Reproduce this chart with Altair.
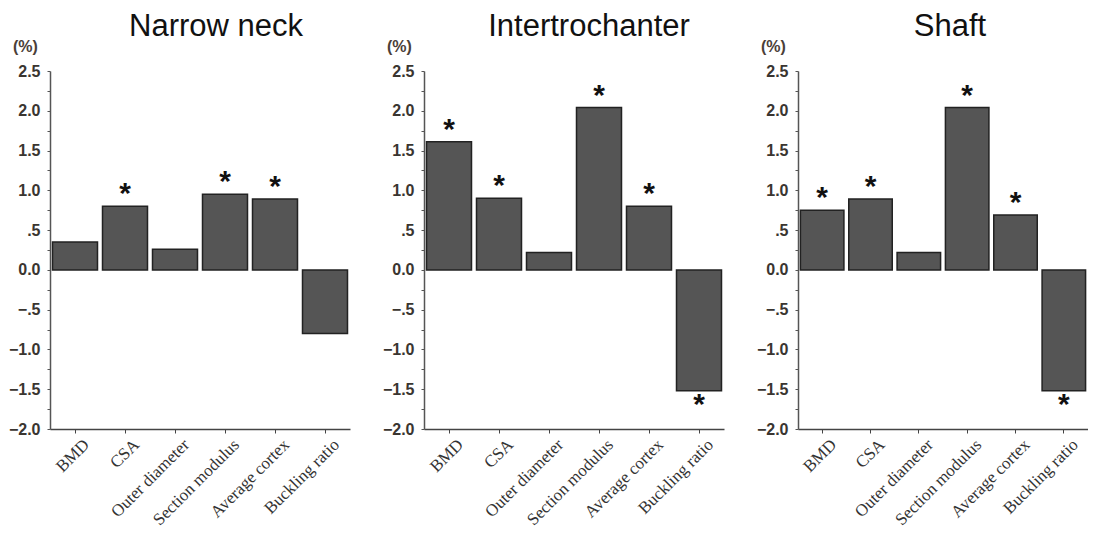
import altair as alt
import pandas as pd

categories = ["BMD", "CSA", "Outer diameter", "Section modulus", "Average cortex", "Buckling ratio"]
panel_titles = ["Narrow neck", "Intertrochanter", "Shaft"]
narrow_neck = [0.35, 0.80, 0.26, 0.95, 0.89, -0.80]
intertrochanter = [1.61, 0.90, 0.22, 2.04, 0.80, -1.52]
shaft = [0.75, 0.89, 0.22, 2.04, 0.69, -1.52]
sig_narrow = [0, 1, 0, 1, 1, 0]
sig_inter = [1, 1, 0, 1, 1, 1]
sig_shaft = [1, 1, 0, 1, 1, 1]
y_ticks = [-2.0 + 0.25 * i for i in range(19)]

LABEL_EXPR = ("abs(datum.value*2 - round(datum.value*2)) > 0.01 ? '' : "
              "(datum.value == 0 ? '0.0' : replace(format(datum.value, '.1f'), '0.', '.'))")


def panel(title, values, sig, width, title_x):
    df = pd.DataFrame({"cat": categories, "val": values, "sig": sig,
                       "star": ["*"] * len(categories)})
    base = alt.Chart(df)
    x = alt.X("cat:N", sort=categories,
              scale=alt.Scale(paddingInner=0.1, paddingOuter=0.05),
              axis=alt.Axis(title=None, labelAngle=-45, labelFont="Liberation Serif",
                            labelFontSize=17, labelColor="#333333", tickSize=4,
                            tickColor="#444444", domainColor="#444444", domainWidth=1.5,
                            labelPadding=3, labelOffset=6))
    y = alt.Y("val:Q", scale=alt.Scale(domain=[-2.0, 2.5], nice=False, zero=False),
              axis=alt.Axis(title=None, values=y_ticks, labelExpr=LABEL_EXPR, tickSize=3,
                            tickColor="#555555", domainColor="#555555", domainWidth=1.5,
                            labelFont="Liberation Sans", labelFontSize=16,
                            labelFontWeight="bold", labelColor="#3a3530",
                            labelPadding=7, grid=False))
    bars = base.mark_bar(color="#555555", stroke="#222222", strokeWidth=1.5).encode(
        x=x, y=y, y2=alt.datum(0))
    star_pos = base.transform_filter("datum.sig == 1 && datum.val > 0").mark_text(
        font="Liberation Sans", fontSize=30, fontWeight="bold", color="#111111",
        baseline="alphabetic", dy=-3).encode(x=x, y=y, text="star:N")
    star_neg = base.transform_filter("datum.sig == 1 && datum.val < 0").mark_text(
        font="Liberation Sans", fontSize=30, fontWeight="bold", color="#111111",
        baseline="alphabetic", dy=23).encode(x=x, y=y, text="star:N")
    pct = alt.Chart(pd.DataFrame({"t": ["(%)"]})).mark_text(
        font="Liberation Sans", fontSize=16, fontWeight="bold", color="#4a4038",
        align="left", baseline="middle").encode(
        text="t:N", x=alt.value(-37), y=alt.value(-24))
    ttl = alt.Chart(pd.DataFrame({"t": [title]})).mark_text(
        font="Liberation Sans", fontSize=31, color="#111111",
        align="center", baseline="alphabetic").encode(
        text="t:N", x=alt.value(title_x), y=alt.value(-35))
    return alt.layer(bars, star_pos, star_neg, pct, ttl).properties(
        width=width, height=358)


chart = alt.hconcat(
    panel(panel_titles[0], narrow_neck, sig_narrow, 300, 166),
    panel(panel_titles[1], intertrochanter, sig_inter, 300, 165),
    panel(panel_titles[2], shaft, sig_shaft, 290, 152),
    spacing=74, bounds="flush",
).properties(padding={"left": 0, "top": 3, "right": 0, "bottom": 0}).configure_view(stroke=None)

chart.save("out.html", embed_options={"renderer": "svg", "actions": False})
